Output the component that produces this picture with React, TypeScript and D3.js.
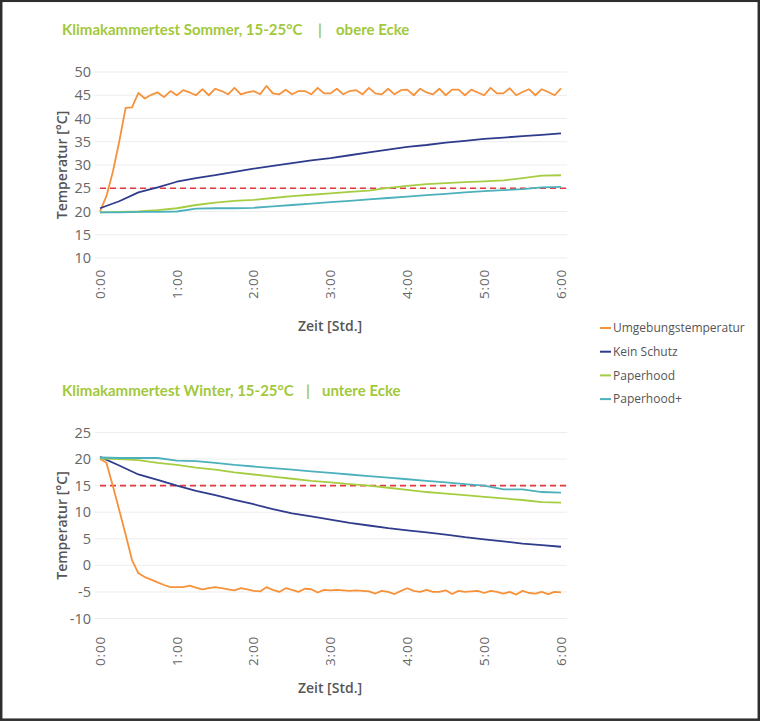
import * as d3 from 'd3';
import React from 'react';

// x tick labels (hours)
const hourLabels = ['0:00', '1:00', '2:00', '3:00', '4:00', '5:00', '6:00'];
const seriesNames = ['Umgebungstemperatur', 'Kein Schutz', 'Paperhood', 'Paperhood+'];
const seriesColors = ['#f7923a', '#2f3b8c', '#a6cd42', '#4cb1bd'];

// Sommer, obere Ecke -- ambient logged every 5 min, the rest every 15 min
const sommerUmgebung = [
  20.0, 23.3, 28.5, 35.0, 42.3, 42.4, 45.5, 44.3, 45.1, 45.6, 44.6,
  45.9, 45.0, 46.1, 45.6, 45.0, 46.3, 45.0, 46.4, 45.9, 45.2,
  46.6, 45.2, 45.6, 45.9, 45.2, 47.0, 45.4, 45.2, 46.2, 45.2,
  45.9, 45.9, 45.2, 46.6, 45.4, 45.4, 46.4, 45.2, 45.9, 46.1,
  45.2, 46.6, 45.4, 45.2, 46.4, 45.2, 46.1, 46.2, 45.0, 46.4,
  45.6, 45.2, 46.4, 45.0, 46.2, 46.2, 45.0, 46.2, 45.6, 45.0,
  46.6, 45.4, 45.4, 46.5, 45.0, 45.7, 46.3, 45.0, 46.3, 45.7,
  45.0, 46.5,
];
const sommerKeinSchutz = [
  20.7, 22.2, 24.1, 25.2, 26.4, 27.2, 27.8, 28.5, 29.2, 29.8, 30.4, 31.0, 31.5,
  32.1, 32.7, 33.3, 33.9, 34.3, 34.8, 35.2, 35.6, 35.9, 36.2, 36.5, 36.8,
];
const sommerPaperhood = [
  19.8, 19.9, 20.0, 20.3, 20.7, 21.4, 21.9, 22.3, 22.5, 22.9, 23.3, 23.6, 23.9,
  24.2, 24.5, 25.1, 25.5, 25.9, 26.1, 26.3, 26.5, 26.7, 27.2, 27.7, 27.8,
];
const sommerPaperhoodPlus = [
  19.8, 19.8, 19.9, 19.9, 20.0, 20.6, 20.7, 20.7, 20.8, 21.1, 21.4, 21.7, 22.0,
  22.3, 22.6, 22.9, 23.2, 23.5, 23.8, 24.1, 24.4, 24.6, 24.8, 25.2, 25.3,
];

// Winter, untere Ecke
const winterUmgebung = [
  20.0, 19.3, 15.0, 10.4, 5.8, 1.0, -1.5, -2.2, -2.7, -3.2, -3.7,
  -4.1, -4.1, -4.1, -3.8, -4.2, -4.5, -4.3, -4.1, -4.3, -4.5,
  -4.7, -4.3, -4.5, -4.8, -4.9, -4.1, -4.6, -5.0, -4.3, -4.6,
  -5.0, -4.4, -4.5, -5.1, -4.6, -4.7, -4.6, -4.7, -4.8, -4.7,
  -4.8, -4.9, -5.3, -4.8, -5.0, -5.4, -4.8, -4.3, -4.8, -5.0,
  -4.6, -5.0, -5.0, -4.7, -5.4, -4.8, -5.0, -4.9, -4.8, -5.2,
  -4.8, -5.0, -5.3, -5.0, -5.5, -4.8, -5.2, -5.3, -5.0, -5.4,
  -5.0, -5.1,
];
const winterKeinSchutz = [
  20.4, 18.8, 17.1, 16.1, 15.0, 14.0, 13.2, 12.3, 11.5, 10.6, 9.8, 9.2, 8.6,
  8.0, 7.5, 7.0, 6.6, 6.2, 5.8, 5.3, 4.9, 4.5, 4.1, 3.8, 3.5,
];
const winterPaperhood = [
  20.1, 20.0, 19.8, 19.3, 18.9, 18.4, 18.0, 17.5, 17.1, 16.7, 16.3, 15.9, 15.6,
  15.3, 15.0, 14.6, 14.2, 13.8, 13.5, 13.2, 12.9, 12.6, 12.3, 11.9, 11.8,
];
const winterPaperhoodPlus = [
  20.3, 20.2, 20.2, 20.2, 19.7, 19.6, 19.3, 18.9, 18.6, 18.3, 18.0, 17.7, 17.4,
  17.1, 16.8, 16.5, 16.2, 15.9, 15.6, 15.3, 15.0, 14.3, 14.3, 13.8, 13.7,
];

const sommerTicks = [10, 15, 20, 25, 30, 35, 40, 45, 50];
const winterTicks = [-10, -5, 0, 5, 10, 15, 20, 25];

const titleFont = "Lato, 'Open Sans', sans-serif";
const font = "'Open Sans', Lato, sans-serif";
const titleGreen = '#a2c83c';
const greyText = '#666';

const x = d3.scaleLinear([0, 6], [100, 561]);
const gridX0 = 95;
const gridX1 = 567;

// minutes between samples for each series
const steps = [5, 15, 15, 15];

const Panel = ({ title, sub, titleY, top, bottom, domain, ticks, series, limit, tickTop, axisTitleY }) => {
  const y = d3.scaleLinear(domain, [bottom, top]);
  const lines = series.map((vals, s) =>
    d3.line<number>((d, i) => x((i * steps[s]) / 60), (d) => y(d))(vals)
  );
  return (
    <g fontFamily={font}>
      <g fontFamily={titleFont} fill={titleGreen} fontSize={15} fontWeight={700}>
        <text x={62} y={titleY}>{title}</text>
        <text x={sub.bar} y={titleY}>|</text>
        <text x={sub.x} y={titleY}>{sub.text}</text>
      </g>
      {ticks.map((t) => (
        <g key={t}>
          <line x1={gridX0} x2={gridX1} y1={y(t)} y2={y(t)} stroke="#ededed" strokeWidth={1} />
          <text x={91} y={y(t)} dy="0.35em" textAnchor="end" fontSize={14.5} fill={greyText}>
            {t}
          </text>
        </g>
      ))}
      {hourLabels.map((h, i) => (
        <text
          key={h}
          transform={`translate(${x(i)},${tickTop}) rotate(-90)`}
          textAnchor="end"
          dy="0.35em"
          fontSize={13.5}
          letterSpacing={0.8}
          fill={greyText}
        >
          {h}
        </text>
      ))}
      <text
        transform={`translate(67,${(top + bottom) / 2}) rotate(-90)`}
        textAnchor="middle"
        fontSize={14}
        fontWeight={600}
        fill="#555"
      >
        Temperatur [°C]
      </text>
      <text x={330} y={axisTitleY} textAnchor="middle" fontSize={14} fontWeight={600} fill="#555">
        Zeit [Std.]
      </text>
      <line
        x1={x(0)}
        x2={gridX1}
        y1={y(limit)}
        y2={y(limit)}
        stroke="#e0393e"
        strokeWidth={1.6}
        strokeDasharray="6,4"
      />
      {lines.map((d, s) => (
        <path key={s} d={d ?? ''} fill="none" stroke={seriesColors[s]} strokeWidth={1.8} strokeLinejoin="round" />
      ))}
    </g>
  );
};

export default function App() {
  return (
    <svg
      width={760}
      height={721}
      style={{ position: 'absolute', left: 0, top: 0, background: '#fff' }}
    >
      <rect x={1.2} y={0.8} width={757.6} height={718.9} fill="#fff" stroke="#2e2e2e" strokeWidth={2.5} />
      <Panel
        title="Klimakammertest Sommer, 15-25°C"
        sub={{ bar: 318, x: 336, text: 'obere Ecke' }}
        titleY={35}
        top={72}
        bottom={258}
        domain={[10, 50]}
        ticks={sommerTicks}
        series={[sommerUmgebung, sommerKeinSchutz, sommerPaperhood, sommerPaperhoodPlus]}
        limit={25}
        tickTop={269}
        axisTitleY={331}
      />
      <Panel
        title="Klimakammertest Winter, 15-25°C"
        sub={{ bar: 306, x: 322, text: 'untere Ecke' }}
        titleY={396}
        top={432.5}
        bottom={618.5}
        domain={[-10, 25]}
        ticks={winterTicks}
        series={[winterUmgebung, winterKeinSchutz, winterPaperhood, winterPaperhoodPlus]}
        limit={15}
        tickTop={636}
        axisTitleY={693}
      />
      <g fontFamily={font}>
        {seriesNames.map((n, i) => (
          <g key={n} transform={`translate(600,${328 + i * 23.7})`}>
            <line x1={0} x2={11} y1={0} y2={0} stroke={seriesColors[i]} strokeWidth={2} />
            <text x={13} y={0} dy="0.35em" fontSize={12} fill="#555">
              {n}
            </text>
          </g>
        ))}
      </g>
    </svg>
  );
}
